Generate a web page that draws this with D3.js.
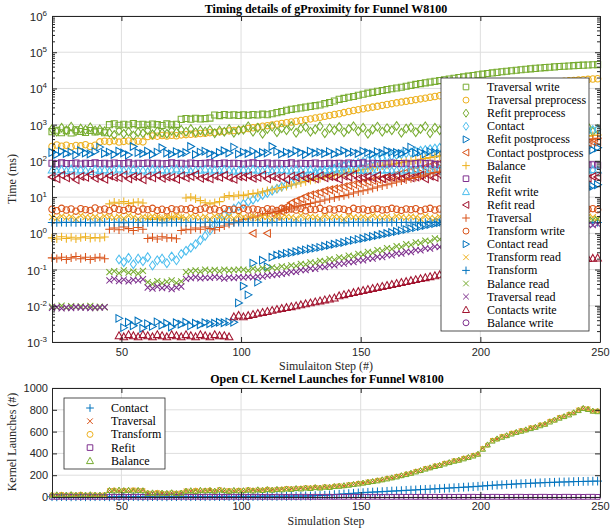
<!DOCTYPE html>
<html>
<head>
<meta charset="utf-8">
<script src="https://cdn.jsdelivr.net/npm/d3@7"></script>
<style>
body { margin: 0; background: #fff; }
svg { display: block; }
.tick text { font-family: "Liberation Sans", Arial, sans-serif; font-size: 11px; fill: #262626; }
.tick line, .domain { stroke: #262626; }
.ttl { font-family: "Liberation Serif", "Times New Roman", serif; font-weight: bold; font-size: 12px; fill: #000; }
.lbl { font-family: "Liberation Serif", "Times New Roman", serif; font-size: 12px; fill: #262626; }
.leg text { font-family: "Liberation Serif", "Times New Roman", serif; font-size: 12px; fill: #000; }
.ylab { font-family: "Liberation Sans", Arial, sans-serif; font-size: 11.5px; fill: #262626; }
</style>
</head>
<body>
<script>
// simulation steps (every 2nd step)
const steps = [21,23,25,27,29,31,33,35,37,39,
  41,43,45,47,49,51,53,55,57,59,
  61,63,65,67,69,71,73,75,77,79,
  81,83,85,87,89,91,93,95,97,99,
  101,103,105,107,109,111,113,115,117,119,
  121,123,125,127,129,131,133,135,137,139,
  141,143,145,147,149,151,153,155,157,159,
  161,163,165,167,169,171,173,175,177,179,
  181,183,185,187,189,191,193,195,197,199,
  201,203,205,207,209,211,213,215,217,219,
  221,223,225,227,229,231,233,235,237,239,
  241,243,245,247,249];

// ---- timing (ms) ----
const traversalWrite = [640,700,600,680,590,720,650,610,690,630,
  660,600,1000,1060,960,1030,980,1070,990,1020,
  970,1040,1000,950,1050,990,1020,1400,1480,1420,
  1500,1440,1470,1520,1850,1780,1900,1820,1870,1800,
  1880,1820,1900,1850,1950,1880,2000,2150,2300,2500,
  2650,2750,2900,3050,3200,3350,3500,3800,4100,4500,
  5000,5300,5700,6000,6500,6900,7400,7800,8300,8800,
  9300,9800,10300,10800,11500,12200,12900,13600,14300,15000,
  15700,16500,17300,18100,19000,19900,20800,21800,22800,23800,
  24800,25800,26800,27800,28800,29800,30800,31800,32800,33800,
  34800,35800,36700,37600,38500,39400,40200,41000,41800,42500,
  43200,43900,44500,45000,45500];
const traversalPre = [250,275,255,270,245,265,260,280,250,270,
  335,350,340,360,330,345,355,340,350,335,
  470,490,480,500,485,510,495,520,530,540,
  550,570,580,600,610,630,650,670,690,710,
  740,780,820,860,900,940,980,1030,1080,1130,
  1180,1240,1300,1370,1440,1520,1600,1700,1800,1900,
  2000,2150,2300,2450,2600,2750,2900,3050,3200,3400,
  3600,3800,4000,4200,4400,4650,4900,5150,5400,5700,
  6000,6300,6600,6900,7200,7500,7800,8100,8400,8700,
  9000,9400,9800,10200,10600,11000,11400,11800,12200,12600,
  13000,13400,13800,14200,14600,15000,15400,15800,16200,16600,
  17000,17400,17800,18200,18500];
const refitPre = [760,640,820,700,880,660,780,720,840,690,
  740,660,600,520,680,560,640,500,620,580,
  700,540,650,600,560,680,610,720,640,760,
  620,700,650,720,580,690,640,760,600,700,
  720,900,640,820,560,760,880,620,800,700,
  920,600,780,860,640,740,900,580,800,700,
  860,620,760,900,660,820,560,740,880,640,
  800,700,920,600,780,840,620,760,900,580,
  820,700,860,640,760,880,600,740,900,620,
  780,860,640,920,700,800,580,760,880,660,
  820,720,900,600,780,860,640,740,900,620,
  800,700,860,640,760];
const contact = [null,null,null,null,null,null,null,null,null,null,
  null,null,null,null,0.19,0.16,0.21,0.14,0.2,0.17,
  0.22,0.13,0.18,0.2,0.15,0.23,0.18,0.27,0.33,0.4,
  0.5,0.65,0.85,1.2,1.7,2.4,3.2,4.0,4.8,5.6,
  6.5,7.5,8.5,10,11.5,13,15,17,19.5,22,
  25,28,31,35,39,43,47,51,56,61,
  66,71,76,82,88,95,102,109,116,123,
  130,138,146,154,162,170,180,190,200,210,
  220,230,242,254,266,278,290,303,316,330,
  344,358,372,386,400,415,430,445,460,475,
  490,505,520,535,550,566,582,600,618,636,
  654,672,690,710,730];
const refitPost = [170,150,185,160,175,145,190,165,155,180,
  240,160,175,150,185,165,145,250,170,160,
  185,150,175,230,165,155,180,160,170,250,
  150,175,185,160,145,170,190,165,240,155,
  175,160,185,150,170,165,250,180,155,175,
  160,190,170,150,185,165,175,160,180,155,
  170,190,165,175,160,185,170,155,180,165,
  190,175,170,160,185,240,165,175,155,180,
  170,160,185,175,150,190,165,180,170,160,
  185,170,155,180,165,190,175,160,180,170,
  160,185,175,190,165,180,200,175,190,185,
  210,190,240,200,230];
const contactPost = [null,null,null,null,null,null,null,null,null,null,
  null,null,null,null,null,null,null,null,null,null,
  null,null,null,null,null,null,null,null,null,null,
  null,null,null,null,null,null,null,null,null,null,
  null,null,1.0,null,null,1.0,null,3.0,4.0,5.5,
  7,8,9,10.5,11.5,12.5,13.5,15,16,17,
  18,19.5,21,22.5,24,25.5,27,29,31,33,
  36,39,42,45,49,53,57,62,67,73,
  80,86,92,98,104,110,116,122,128,135,
  142,149,156,163,170,177,184,191,198,205,
  212,220,228,236,244,252,260,270,280,290,
  300,310,320,330,340];
const balance = [0.75,0.7,0.8,0.72,0.78,0.7,0.76,0.8,0.73,0.77,
  0.74,0.79,6.5,7.2,6.8,7.5,6.6,7.0,7.3,6.9,
  2.6,2.4,2.7,2.5,2.6,2.8,2.5,2.7,9.5,10,
  9,8,7,6.5,7,7.5,10,11,10.5,11.5,
  11,12,12.5,13,14,15,16,17,18.5,20,
  21.5,23,25,27,29,31,33,35.5,38,40.5,
  43,46,49,52,55,58,61,65,69,73,
  77,81,85,90,95,100,105,111,117,123,
  130,137,144,151,158,165,172,180,188,196,
  205,215,225,235,245,255,265,276,287,298,
  310,322,334,347,360,374,388,402,417,432,
  448,464,480,500,520];
const refit = [86,83,88,85,84,87,82,86,85,88,
  84,86,83,87,85,84,88,82,86,85,
  87,84,86,83,85,88,84,86,82,87,
  85,84,86,88,83,85,87,84,86,85,
  82,86,88,84,85,87,83,86,84,85,
  88,82,86,85,84,87,83,85,86,84,
  86,83,87,85,84,88,82,86,85,84,
  83,87,85,84,86,82,85,87,84,86,
  80,78,82,79,81,77,80,78,79,81,
  76,78,80,77,79,78,76,80,77,79,
  78,76,79,77,80,78,76,79,77,78,
  76,79,77,78,76];
const refitWrite = [56,52,58,54,60,53,57,55,51,59,
  54,57,52,56,60,55,53,58,54,56,
  52,59,55,57,53,56,60,54,58,52,
  56,55,59,53,57,54,58,56,52,55,
  57,53,59,55,54,58,52,56,57,55,
  53,59,54,56,58,52,55,57,54,59,
  56,53,57,55,58,54,56,52,57,55,
  58,54,56,53,57,55,56,59,53,57,
  55,58,52,56,59,54,57,53,56,58,
  54,57,55,59,52,56,58,54,57,55,
  59,53,56,58,54,57,55,52,58,56,
  54,57,55,58,56];
const refitRead = [36,32,40,34,38,30,37,35,42,33,
  36,31,39,35,34,41,32,37,36,30,
  38,34,40,33,36,35,31,39,34,37,
  42,33,36,32,38,35,40,34,31,37,
  36,39,33,35,41,32,37,34,36,30,
  38,35,40,33,36,32,39,34,37,35,
  31,38,36,42,33,35,37,34,39,32,
  36,35,38,33,37,34,36,40,32,38,
  35,41,33,37,30,36,39,34,38,32,
  37,34,40,35,31,38,36,42,33,36,
  39,32,37,35,40,34,38,31,36,41,
  35,38,33,37,36];
const traversal = [0.21,0.2,0.22,0.19,0.21,0.23,0.2,0.22,0.19,0.21,
  0.22,0.2,1.3,1.4,1.25,1.5,1.35,1.2,1.45,1.3,
  0.72,0.78,0.7,0.8,0.74,0.76,0.71,1.2,1.3,1.25,
  1.4,1.3,1.5,1.35,1.25,1.45,1.6,1.8,2.0,2.2,
  2.4,2.6,2.8,3.0,3.2,3.5,3.7,4.0,4.3,4.6,
  5.0,5.4,5.8,6.2,6.7,7.2,7.7,8.3,8.9,9.6,
  10.3,11,12,13,14,15,16,17.5,19,20.5,
  22,24,26,28,30,32.5,35,38,41,44,
  48,52,56,60,65,70,75,80,86,92,
  98,105,112,120,128,137,146,156,166,177,
  188,200,213,226,240,255,270,286,303,320,
  340,360,380,400,420];
const transformWrite = [4.6,4.2,4.9,4.4,4.7,4.1,4.8,4.5,4.3,5.0,
  4.4,4.7,4.2,4.9,4.5,4.3,4.8,4.6,4.1,4.7,
  4.5,4.9,4.3,4.6,4.2,4.8,4.4,4.7,4.5,4.9,
  4.3,4.6,5.0,4.4,4.7,4.2,4.8,4.5,4.6,4.3,
  4.9,4.4,4.7,4.5,4.2,4.8,4.6,4.3,4.9,4.5,
  4.7,4.4,4.8,4.2,4.6,4.5,4.9,4.3,4.7,4.4,
  4.8,4.6,4.2,4.9,4.5,4.7,4.3,4.6,4.8,4.4,
  4.5,4.9,4.6,4.3,4.7,4.5,4.8,4.2,4.6,4.9,
  4.4,4.7,4.3,4.8,4.5,4.6,4.2,4.9,4.4,4.7,
  4.6,4.3,4.8,4.5,4.9,4.4,4.7,4.2,4.6,4.8,
  4.3,4.7,4.5,4.9,4.4,4.6,4.8,4.3,4.7,4.5,
  4.9,4.4,4.6,4.8,4.5];
const contactRead = [null,null,null,null,null,null,null,null,null,null,
  null,null,null,null,0.0045,0.0025,0.0035,0.0028,0.0038,0.0024,
  0.0032,0.0027,0.0036,0.0029,0.0033,0.0026,0.0034,0.0031,0.0035,0.0028,
  0.0033,0.003,0.0034,0.0032,0.0033,0.0035,0.0034,0.0036,0.0035,0.012,
  0.035,0.02,0.15,0.045,0.18,0.12,0.22,0.25,0.26,0.28,
  0.29,0.31,0.33,0.35,0.37,0.39,0.41,0.44,0.47,0.5,
  0.53,0.56,0.6,0.64,0.68,0.72,0.77,0.82,0.87,0.93,
  0.99,1.05,1.12,1.19,1.27,1.35,1.44,1.53,1.63,1.74,
  1.85,1.97,2.1,2.23,2.37,2.52,2.68,2.85,3.03,3.22,
  3.42,3.63,3.86,4.1,4.35,4.62,4.9,5.2,5.5,5.85,
  6.4,7,7.7,8.4,9.2,10,11,12,13,14.2,
  15.5,17,18.5,20,22];
const transformRead = [2.8,2.6,3.0,2.7,2.9,2.5,3.1,2.8,2.7,2.9,
  2.6,3.0,2.8,2.7,2.9,2.6,3.1,2.8,2.5,2.9,
  2.7,3.0,2.8,2.6,2.9,2.7,3.1,2.8,2.6,3.0,
  2.8,2.7,2.9,2.5,3.0,2.8,2.7,2.9,2.6,3.1,
  2.8,2.7,3.0,2.6,2.9,2.8,2.5,3.0,2.7,2.9,
  2.8,2.6,3.1,2.7,2.9,2.8,2.6,3.0,2.7,2.9,
  2.8,2.5,3.0,2.8,2.7,2.9,2.6,3.1,2.8,2.7,
  2.9,2.6,3.0,2.8,2.7,2.9,2.8,2.5,3.0,2.7,
  2.6,2.9,2.8,3.1,2.7,2.8,2.5,2.9,3.0,2.7,
  2.8,3.0,2.6,2.9,2.7,3.1,2.8,2.6,2.9,2.8,
  2.7,2.9,3.0,2.6,2.8,2.7,3.1,2.9,2.5,2.8,
  3.0,2.7,2.9,2.8,2.6];
const transform = [2.0,1.97,2.03,1.99,2.02,1.98,2.01,2.0,1.97,2.03,
  1.99,2.02,2.0,1.98,2.01,1.97,2.03,2.0,1.99,2.02,
  1.98,2.01,2.0,1.97,2.03,1.99,2.02,2.0,1.98,2.01,
  2.0,1.97,2.03,1.99,2.02,1.98,2.01,2.0,1.97,2.03,
  1.99,2.02,2.0,1.98,2.01,1.97,2.03,2.0,1.99,2.02,
  1.98,2.01,2.0,1.97,2.03,1.99,2.02,2.0,1.98,2.01,
  2.0,1.97,2.03,1.99,2.02,1.98,2.01,2.0,1.97,2.03,
  1.99,2.02,2.0,1.98,2.01,1.97,2.03,2.0,1.99,2.02,
  1.98,2.01,2.0,1.97,2.03,1.99,2.02,2.0,1.98,2.01,
  2.0,1.97,2.03,1.99,2.02,1.98,2.01,2.0,1.97,2.03,
  1.99,2.02,2.0,1.98,2.01,1.97,2.03,2.0,1.99,2.02,
  1.98,2.01,2.0,1.97,2.0];
const balanceRead = [0.0095,0.009,0.01,0.0088,0.0098,0.0092,0.0096,0.009,0.0099,0.0087,
  0.0094,0.0091,0.085,0.09,0.08,0.095,0.082,0.088,0.078,0.092,
  0.045,0.04,0.048,0.042,0.046,0.05,0.043,0.047,0.085,0.09,
  0.095,0.088,0.1,0.092,0.098,0.09,0.1,0.094,0.097,0.1,
  0.1,0.093,0.106,0.098,0.11,0.1,0.114,0.108,0.122,0.116,
  0.13,0.126,0.143,0.138,0.157,0.152,0.174,0.168,0.194,0.186,
  0.216,0.206,0.24,0.23,0.27,0.26,0.305,0.29,0.345,0.33,
  0.39,0.37,0.44,0.42,0.5,0.48,0.56,0.54,0.63,0.6,
  0.72,0.68,0.82,0.78,0.92,0.88,1.03,0.98,1.14,1.08,
  1.25,1.2,1.36,1.3,1.47,1.4,1.58,1.5,1.68,1.6,
  1.8,1.72,1.9,1.84,2.0,1.94,2.1,2.04,2.2,2.14,
  2.3,2.24,2.4,2.34,2.45];
const traversalRead = [0.0088,0.0092,0.0085,0.009,0.0087,0.0093,0.0089,0.0091,0.0086,0.009,
  0.0089,0.0092,0.05,0.055,0.048,0.053,0.047,0.052,0.05,0.054,
  0.032,0.03,0.034,0.031,0.033,0.029,0.032,0.034,0.055,0.058,
  0.062,0.057,0.06,0.059,0.063,0.06,0.056,0.061,0.058,0.062,
  0.06,0.063,0.061,0.065,0.064,0.068,0.07,0.073,0.076,0.08,
  0.086,0.086,0.096,0.096,0.107,0.105,0.119,0.117,0.132,0.13,
  0.145,0.145,0.162,0.161,0.181,0.18,0.202,0.2,0.225,0.222,
  0.25,0.247,0.279,0.275,0.31,0.305,0.345,0.34,0.385,0.38,
  0.43,0.42,0.48,0.47,0.54,0.53,0.6,0.59,0.66,0.65,
  0.74,0.72,0.82,0.8,0.9,0.88,0.98,0.96,1.06,1.04,
  1.15,1.12,1.25,1.22,1.35,1.31,1.45,1.4,1.55,1.5,
  1.64,1.6,1.72,1.68,1.8];
const contactsWrite = [null,null,null,null,null,null,null,null,null,null,
  null,null,null,null,0.0015,0.0014,0.0016,0.0015,0.0014,0.0016,
  0.0015,0.0014,0.0016,0.0015,0.0014,0.0016,0.0015,0.0014,0.0016,0.0015,
  0.0014,0.0016,0.0015,0.0014,0.0016,0.0015,0.0015,0.0014,0.005,0.0055,
  0.005,0.0054,0.0058,0.0062,0.0066,0.007,0.0075,0.008,0.0085,0.009,
  0.0095,0.01,0.0107,0.0114,0.0121,0.0129,0.0137,0.0146,0.0155,0.0165,
  0.019,0.0204,0.0218,0.0233,0.0249,0.0266,0.0284,0.0303,0.0323,0.0344,
  0.0366,0.039,0.0415,0.0442,0.047,0.05,0.053,0.0565,0.06,0.064,
  0.068,0.072,0.076,0.08,0.084,0.088,0.092,0.096,0.1,0.104,
  0.108,0.112,0.116,0.12,0.124,0.128,0.132,0.136,0.14,0.144,
  0.148,0.152,0.156,0.16,0.165,0.17,0.175,0.18,0.185,0.19,
  0.194,0.198,0.202,0.206,0.21];
const balanceWrite = []; // no visible points in the reference

// ---- kernel launches (#) ----
const kContact = [3,2,4,3,2,3,4,2,3,3,
  4,3,2,3,4,3,2,4,3,3,
  2,4,3,3,2,4,3,5,4,3,
  4,5,3,4,5,4,6,5,4,6,
  5,6,5,7,6,8,7,6,8,7,
  8,9,8,10,9,12,14,16,19,22,
  25,28,31,34,37,40,43,45,47,49,
  52,54,56,58,61,63,65,68,70,72,
  75,77,80,82,85,87,90,92,95,98,
  101,104,107,110,112,115,117,120,122,124,
  126,128,130,132,134,135,137,138,139,141,
  142,143,144,145,146];
const kTraversal = [20,18,24,17,22,19,25,18,21,20,
  18,21,60,64,56,62,58,66,60,61,
  38,34,42,36,33,39,35,40,58,54,
  62,56,60,64,54,68,58,60,57,62,
  58,68,62,66,64,72,66,70,72,78,
  76,78,80,86,84,90,86,95,92,100,
  104,102,114,116,126,128,140,142,154,158,
  172,176,190,196,212,218,236,242,262,268,
  286,290,310,316,334,338,356,362,382,392,
  446,476,520,532,556,562,586,592,610,615,
  636,640,662,668,696,705,730,738,760,772,
  800,812,810,788,790];
const kTransform = kTraversal;
const kRefit = [2,1,2,2,1,2,1,2,2,1,
  2,1,2,2,1,2,1,2,2,1,
  2,1,2,2,1,2,1,2,2,1,
  2,1,2,2,1,2,1,2,2,1,
  2,1,2,2,1,2,1,2,2,1,
  2,1,2,2,1,2,1,2,2,1,
  2,1,2,2,1,2,1,2,2,1,
  2,1,2,2,1,2,1,2,2,1,
  2,1,2,2,1,2,1,2,2,1,
  2,1,2,2,1,2,1,2,2,1,
  2,1,2,2,1,2,1,2,2,1,
  2,1,2,2,1];
const kBalance = [18,22,16,20,24,17,21,19,23,18,
  20,17,62,58,66,60,64,57,63,59,
  35,40,32,38,36,41,33,37,55,60,
  52,64,58,62,56,66,60,54,63,58,
  60,65,58,68,62,70,64,72,68,75,
  72,80,76,84,80,88,84,92,90,98,
  100,106,110,118,122,130,136,144,150,160,
  168,178,186,198,208,220,232,245,258,270,
  282,292,305,318,330,340,352,365,378,395,
  440,480,515,535,550,565,580,595,605,618,
  630,642,656,670,690,708,725,740,755,775,
  795,815,805,790,785];

const xTicks = [50, 100, 150, 200, 250];
const yDecades = [-3, -2, -1, 0, 1, 2, 3, 4, 5, 6];
const yTicks2 = [0, 200, 400, 600, 800, 1000];

const C = { blue: "#0072BD", orange: "#D95319", yellow: "#EDB120", purple: "#7E2F8E",
            green: "#77AC30", lblue: "#4DBEEE", dred: "#A2142F" };

const timing = [
  { name: "Traversal write", color: C.green, mk: "square", v: traversalWrite },
  { name: "Traversal preprocess", color: C.yellow, mk: "circle", v: traversalPre },
  { name: "Refit preprocess", color: C.green, mk: "diamond", v: refitPre },
  { name: "Contact", color: C.lblue, mk: "diamond", v: contact },
  { name: "Refit postprocess", color: C.blue, mk: "right", v: refitPost },
  { name: "Contact postprocess", color: C.orange, mk: "left", v: contactPost },
  { name: "Balance", color: C.yellow, mk: "plus", v: balance },
  { name: "Refit", color: C.purple, mk: "square", v: refit },
  { name: "Refit write", color: C.lblue, mk: "up", v: refitWrite },
  { name: "Refit read", color: C.dred, mk: "left", v: refitRead },
  { name: "Traversal", color: C.orange, mk: "plus", v: traversal },
  { name: "Transform write", color: C.orange, mk: "circle", v: transformWrite },
  { name: "Contact read", color: C.blue, mk: "right", v: contactRead },
  { name: "Transform read", color: C.yellow, mk: "x", v: transformRead },
  { name: "Transform", color: C.blue, mk: "plus", v: transform },
  { name: "Balance read", color: C.green, mk: "x", v: balanceRead },
  { name: "Traversal read", color: C.purple, mk: "x", v: traversalRead },
  { name: "Contacts write", color: C.dred, mk: "up", v: contactsWrite },
  { name: "Balance write", color: C.purple, mk: "circle", v: balanceWrite }
];

const launches = [
  { name: "Contact", color: C.blue, mk: "plus", v: kContact, r: 4 },
  { name: "Traversal", color: C.orange, mk: "x", v: kTraversal, r: 2.5 },
  { name: "Transform", color: C.yellow, mk: "circle", v: kTransform, r: 2.5 },
  { name: "Refit", color: C.purple, mk: "square", v: kRefit, r: 3 },
  { name: "Balance", color: C.green, mk: "up", v: kBalance, r: 2.8 }
];

// MATLAB-like marker outlines
function marker(type, r) {
  switch (type) {
    case "square": { const s = r * 0.8; return `M${-s},${-s}H${s}V${s}H${-s}Z`; }
    case "circle": { const s = r * 0.85; return `M${s},0A${s},${s} 0 1,1 ${-s},0A${s},${s} 0 1,1 ${s},0Z`; }
    case "diamond": return `M0,${-r * 1.15}L${r * 0.8},0L0,${r * 1.15}L${-r * 0.8},0Z`;
    case "right": return `M${r},0L${-r * 0.8},${-r}L${-r * 0.8},${r}Z`;
    case "left": return `M${-r},0L${r * 0.8},${-r}L${r * 0.8},${r}Z`;
    case "up": return `M0,${-r}L${r},${r * 0.8}L${-r},${r * 0.8}Z`;
    case "plus": return `M${-r * 1.1},0H${r * 1.1}M0,${-r * 1.1}V${r * 1.1}`;
    case "x": return `M${-r * 0.8},${-r * 0.8}L${r * 0.8},${r * 0.8}M${-r * 0.8},${r * 0.8}L${r * 0.8},${-r * 0.8}`;
  }
}

const svg = d3.select("body").append("svg").attr("width", 610).attr("height", 531);

// ================= top panel =================
const x1 = d3.scaleLinear().domain([21, 250]).range([52, 600]);
const y1 = d3.scaleLog().domain([1e-3, 1e6]).range([342, 16]);

const g1 = svg.append("g");
g1.selectAll(".vg").data(xTicks).enter().append("line")
  .attr("x1", d => x1(d)).attr("x2", d => x1(d)).attr("y1", 16).attr("y2", 342)
  .attr("stroke", "#dedede");
g1.selectAll(".hg").data(yDecades).enter().append("line")
  .attr("x1", 52).attr("x2", 600).attr("y1", d => y1(Math.pow(10, d))).attr("y2", d => y1(Math.pow(10, d)))
  .attr("stroke", "#dedede");

timing.forEach(s => {
  const pts = steps.map((st, i) => [st, s.v[i]]).filter(p => p[1] != null);
  g1.append("g").selectAll("path").data(pts).enter().append("path")
    .attr("d", marker(s.mk, 3.8))
    .attr("transform", d => `translate(${x1(d[0])},${y1(d[1])})`)
    .attr("fill", "none").attr("stroke", s.color).attr("stroke-width", 1.05);
});

const minors = [];
yDecades.slice(0, -1).forEach(e => { for (let k = 2; k < 10; k++) minors.push(k * Math.pow(10, e)); });

g1.append("g").attr("transform", "translate(0,342)")
  .call(d3.axisBottom(x1).tickValues(xTicks).tickSize(-5).tickSizeOuter(0).tickPadding(6).tickFormat(d3.format("d")));
g1.append("g").attr("transform", "translate(0,16)")
  .call(d3.axisTop(x1).tickValues(xTicks).tickSize(-5).tickSizeOuter(0).tickFormat(""));
g1.append("g").attr("transform", "translate(52,0)")
  .call(d3.axisLeft(y1).tickValues(yDecades.map(e => Math.pow(10, e))).tickSize(-5).tickSizeOuter(0).tickFormat(""));
g1.append("g").attr("transform", "translate(600,0)")
  .call(d3.axisRight(y1).tickValues(yDecades.map(e => Math.pow(10, e))).tickSize(-5).tickSizeOuter(0).tickFormat(""));
g1.append("g").attr("transform", "translate(52,0)")
  .call(d3.axisLeft(y1).tickValues(minors).tickSize(-3).tickSizeOuter(0).tickFormat(""))
  .select(".domain").remove();
g1.append("g").attr("transform", "translate(600,0)")
  .call(d3.axisRight(y1).tickValues(minors).tickSize(-3).tickSizeOuter(0).tickFormat(""))
  .select(".domain").remove();

// log tick labels 10^n
yDecades.forEach(e => {
  const t = g1.append("text").attr("class", "ylab").attr("text-anchor", "end")
    .attr("x", 47).attr("y", y1(Math.pow(10, e)) + 5);
  t.append("tspan").text("10");
  t.append("tspan").attr("dy", -5).attr("font-size", 8).text(e);
});

svg.append("text").attr("class", "ttl").attr("x", 326).attr("y", 13).attr("text-anchor", "middle")
  .text("Timing details of gProximity for Funnel W8100");
svg.append("text").attr("class", "lbl").attr("x", 326).attr("y", 370).attr("text-anchor", "middle")
  .text("Simulaiton Step (#)");
svg.append("text").attr("class", "lbl").attr("text-anchor", "middle")
  .attr("transform", "translate(16,179) rotate(-90)").text("Time (ms)");

// legend
const leg1 = svg.append("g").attr("class", "leg");
leg1.append("rect").attr("x", 441).attr("y", 78).attr("width", 148).attr("height", 253)
  .attr("fill", "#fff").attr("stroke", "#262626").attr("stroke-width", 0.8);
timing.forEach((s, i) => {
  const yy = 87 + i * 13.1;
  leg1.append("path").attr("d", marker(s.mk, 3.5)).attr("transform", `translate(466,${yy})`)
    .attr("fill", "none").attr("stroke", s.color).attr("stroke-width", 1);
  leg1.append("text").attr("x", 487).attr("y", yy + 4).text(s.name);
});

// ================= bottom panel =================
const x2 = d3.scaleLinear().domain([21, 250]).range([52, 600]);
const y2 = d3.scaleLinear().domain([0, 1000]).range([497, 388]);

const g2 = svg.append("g");
g2.selectAll(".vg").data(xTicks).enter().append("line")
  .attr("x1", d => x2(d)).attr("x2", d => x2(d)).attr("y1", 388).attr("y2", 497)
  .attr("stroke", "#dedede");
g2.selectAll(".hg").data(yTicks2).enter().append("line")
  .attr("x1", 52).attr("x2", 600).attr("y1", d => y2(d)).attr("y2", d => y2(d))
  .attr("stroke", "#dedede");

launches.forEach(s => {
  const pts = steps.map((st, i) => [st, s.v[i]]).filter(p => p[1] != null);
  g2.append("g").selectAll("path").data(pts).enter().append("path")
    .attr("d", marker(s.mk, s.r))
    .attr("transform", d => `translate(${x2(d[0])},${y2(d[1])})`)
    .attr("fill", "none").attr("stroke", s.color).attr("stroke-width", 1);
});

g2.append("g").attr("transform", "translate(0,497)")
  .call(d3.axisBottom(x2).tickValues(xTicks).tickSize(-5).tickSizeOuter(0).tickPadding(5).tickFormat(d3.format("d")));
g2.append("g").attr("transform", "translate(0,388)")
  .call(d3.axisTop(x2).tickValues(xTicks).tickSize(-5).tickSizeOuter(0).tickFormat(""));
g2.append("g").attr("transform", "translate(52,0)")
  .call(d3.axisLeft(y2).tickValues(yTicks2).tickSize(-5).tickSizeOuter(0).tickPadding(4).tickFormat(d3.format("d")));
g2.append("g").attr("transform", "translate(600,0)")
  .call(d3.axisRight(y2).tickValues(yTicks2).tickSize(-5).tickSizeOuter(0).tickFormat(""));

svg.append("text").attr("class", "ttl").attr("x", 327).attr("y", 383).attr("text-anchor", "middle")
  .text("Open CL Kernel Launches for Funnel W8100");
svg.append("text").attr("class", "lbl").attr("x", 326).attr("y", 525).attr("text-anchor", "middle")
  .text("Simulation Step");
svg.append("text").attr("class", "lbl").attr("text-anchor", "middle")
  .attr("transform", "translate(16,442) rotate(-90)").text("Kernel Launches (#)");

const leg2 = svg.append("g").attr("class", "leg");
leg2.append("rect").attr("x", 64).attr("y", 398).attr("width", 101).attr("height", 71)
  .attr("fill", "#fff").attr("stroke", "#262626").attr("stroke-width", 0.8);
launches.forEach((s, i) => {
  const yy = 408 + i * 13.2;
  leg2.append("path").attr("d", marker(s.mk, 3.5)).attr("transform", `translate(90,${yy})`)
    .attr("fill", "none").attr("stroke", s.color).attr("stroke-width", 1);
  leg2.append("text").attr("x", 111).attr("y", yy + 4).text(s.name);
});
</script>
</body>
</html>
